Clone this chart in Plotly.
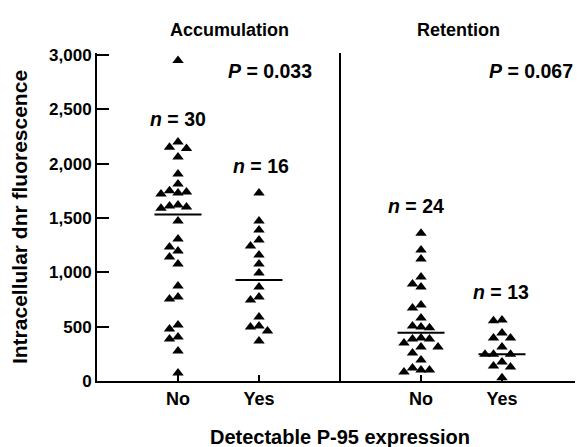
import numpy as np
import plotly.graph_objects as go

# values (intracellular dnr fluorescence)
acc_no = [2948, 2200, 2140, 2150, 2060, 1905, 1813, 1750, 1720, 1730, 1740,
          1590, 1600, 1620, 1610, 1472, 1307, 1233, 1196, 1141, 1077, 874,
          755, 773, 515, 478, 386, 405, 276, 74]
acc_yes = [1730, 1472, 1390, 1297, 1242, 1160, 1077, 994, 865, 773, 745,
           589, 506, 497, 460, 368]
ret_no = [1360, 1205, 1122, 957, 893, 865, 699, 672, 580, 506, 497, 490,
          396, 386, 386, 350, 313, 313, 258, 193, 120, 83, 101, 101]
ret_yes = [555, 561, 442, 396, 396, 313, 245, 245, 245, 175, 129, 138, 30]

groups = [acc_no, acc_yes, ret_no, ret_yes]
positions = [1, 2, 4, 5]
tick_text = ["No", "Yes", "No", "Yes"]
n_labels = ["30", "16", "24", "13"]
p_values = ["0.033", "0.067"]

FONT = "Liberation Sans, Arial, sans-serif"
YMAX = 3018


def swarm(vals, center, step=0.105, ypx=328 / YMAX, xpx=81, d=8.5):
    placed = []
    xs = [0.0] * len(vals)
    order = sorted(range(len(vals)), key=lambda i: -vals[i])
    for i in order:
        x = center
        for k in [0, -1, 1, -2, 2, -3, 3]:
            x = center + k * step
            ok = all(((x - px) * xpx) ** 2 + ((vals[i] - pv) * ypx) ** 2 >= d * d
                     for px, pv in placed)
            if ok:
                break
        placed.append((x, vals[i]))
        xs[i] = x
    return xs


fig = go.Figure()
for vals, pos in zip(groups, positions):
    fig.add_trace(go.Scatter(
        x=swarm(vals, pos), y=vals, mode="markers",
        marker=dict(symbol="triangle-up", size=10, color="black"),
        showlegend=False, hoverinfo="y"))
    med = float(np.median(vals))
    fig.add_shape(type="line", x0=pos - 0.29, x1=pos + 0.29, y0=med, y1=med,
                  line=dict(color="black", width=2))

# divider between the two panels
fig.add_shape(type="line", x0=3, x1=3, y0=0, y1=YMAX, line=dict(color="black", width=2))


def bold(size):
    return dict(family=FONT, size=size, color="black", weight="bold")


for txt, xc in [("Accumulation", 1.63), ("Retention", 4.46)]:
    fig.add_annotation(x=xc, y=1.0, xref="x", yref="paper", yshift=35, text=txt,
                       showarrow=False, font=bold(18))

n_x = [1.0, 2.02, 3.94, 4.99]
n_y = [2415, 1980, 1610, 820]
for xc, n, yy in zip(n_x, n_labels, n_y):
    fig.add_annotation(x=xc, y=yy, text="<i>n</i> = " + n, showarrow=False, font=bold(19.5))

for p, xc in zip(p_values, [2.14, 5.36]):
    fig.add_annotation(x=xc, y=2853, text="<i>P</i> = " + p, showarrow=False, font=bold(19.5))

# the page body adds an 8px offset, so the margins are shifted to compensate
fig.update_layout(
    width=583, height=447,
    margin=dict(l=89, r=8, t=45, b=74),
    plot_bgcolor="white", paper_bgcolor="white",
    font=dict(family=FONT, color="black"),
    xaxis=dict(range=[0, 6], tickvals=positions, ticktext=tick_text, automargin=False,
               ticks="inside", ticklen=6, tickwidth=2, tickcolor="black",
               showline=True, linecolor="black", linewidth=2, showgrid=False,
               zeroline=False, tickfont=bold(18),
               title=dict(text="Detectable P-95 expression", standoff=22, font=bold(20))),
    yaxis=dict(range=[0, YMAX], tickvals=[0, 500, 1000, 1500, 2000, 2500, 3000],
               tickformat=",d", ticks="inside", ticklen=12, tickwidth=2, automargin=False,
               tickcolor="black", showline=True, linecolor="black", linewidth=2,
               showgrid=False, zeroline=False, tickfont=bold(17),
               title=dict(text="Intracellular dnr fluorescence", standoff=20, font=bold(21))),
)

fig.write_html("out.html")
